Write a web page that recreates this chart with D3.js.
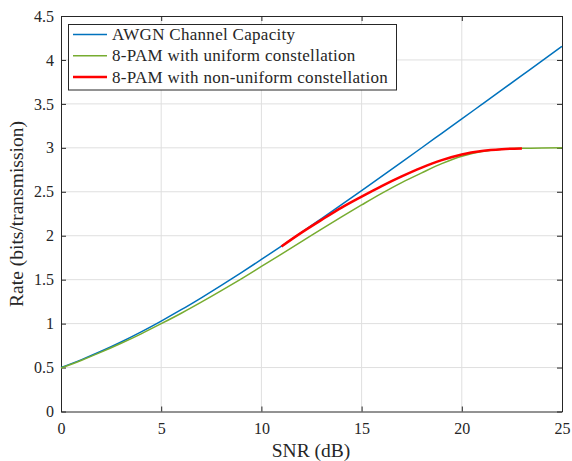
<!DOCTYPE html>
<html>
<head>
<meta charset="utf-8">
<script src="https://cdn.jsdelivr.net/npm/d3@7"></script>
<style>
  body { margin: 0; background: #fff; }
  svg text { font-family: "Liberation Serif", "Times New Roman", serif; fill: #262626; }
</style>
</head>
<body>
<svg id="chart" width="572" height="461"></svg>
<script>
// values
var snrDb = [0,1,2,3,4,5,6,7,8,9,10,11,12,13,14,15,16,17,18,19,20,21,22,23,24,25];
var awgn = [0.500,0.588,0.685,0.791,0.906,1.029,1.158,1.294,1.435,1.580,1.730,1.882,2.037,2.195,2.354,2.514,2.676,2.838,3.001,3.165,3.329,3.494,3.659,3.824,3.989,4.155];
var pamUniform = [0.495,0.581,0.675,0.776,0.884,0.999,1.118,1.244,1.375,1.510,1.650,1.790,1.932,2.075,2.215,2.350,2.482,2.605,2.715,2.820,2.905,2.958,2.985,2.995,2.999,3.000];
var snrNonUni = [11,12,13,14,15,16,17,18,19,20,21,22,23];
var pamNonUniform = [1.878,2.035,2.180,2.320,2.445,2.565,2.675,2.775,2.860,2.925,2.965,2.985,2.993];

var xTicks = [0,5,10,15,20,25];
var yTicks = [0,0.5,1,1.5,2,2.5,3,3.5,4,4.5];
var legendLabels = ["AWGN Channel Capacity", "8-PAM with uniform constellation", "8-PAM with non-uniform constellation"];
var colors = ["#0072BD", "#77AC30", "#FF0000"];

var svg = d3.select("#chart");
var plotL = 61, plotR = 562, plotT = 16, plotB = 411.5;

var x = d3.scaleLinear().domain([0, 25]).range([plotL, plotR]);
var y = d3.scaleLinear().domain([0, 4.5]).range([plotB, plotT]);

// grid
svg.append("g").selectAll("line").data(xTicks.slice(1, -1)).enter().append("line")
  .attr("x1", d => x(d)).attr("x2", d => x(d))
  .attr("y1", plotT).attr("y2", plotB)
  .attr("stroke", "#dfdfdf").attr("stroke-width", 1);
svg.append("g").selectAll("line").data(yTicks.slice(1, -1)).enter().append("line")
  .attr("y1", d => y(d)).attr("y2", d => y(d))
  .attr("x1", plotL).attr("x2", plotR)
  .attr("stroke", "#dfdfdf").attr("stroke-width", 1);

// axes (ticks inward, box on)
var axisColor = "#262626";
var gx = svg.append("g").attr("transform", "translate(0," + plotB + ")")
  .call(d3.axisBottom(x).tickValues(xTicks).tickSizeInner(-5).tickSizeOuter(0).tickPadding(11).tickFormat(d3.format("d")));
var gxTop = svg.append("g").attr("transform", "translate(0," + plotT + ")")
  .call(d3.axisTop(x).tickValues(xTicks).tickSizeInner(-5).tickSizeOuter(0).tickFormat(""));
var gy = svg.append("g").attr("transform", "translate(" + plotL + ",0)")
  .call(d3.axisLeft(y).tickValues(yTicks).tickSizeInner(-5).tickSizeOuter(0).tickPadding(7).tickFormat(d => String(d)));
var gyRight = svg.append("g").attr("transform", "translate(" + plotR + ",0)")
  .call(d3.axisRight(y).tickValues(yTicks).tickSizeInner(-5).tickSizeOuter(0).tickFormat(""));

[gx, gxTop, gy, gyRight].forEach(function(g) {
  g.select(".domain").attr("stroke", axisColor).attr("stroke-width", 1);
  g.selectAll(".tick line").attr("stroke", axisColor);
  g.selectAll("text").style("font-size", "16px").attr("fill", axisColor)
    .style("font-family", "'Liberation Serif', serif");
});

// series
var line = d3.line().x(d => x(d[0])).y(d => y(d[1])).curve(d3.curveMonotoneX);
svg.append("path").datum(snrDb.map((d, i) => [d, awgn[i]]))
  .attr("d", line).attr("fill", "none").attr("stroke", colors[0]).attr("stroke-width", 1.5);
svg.append("path").datum(snrDb.map((d, i) => [d, pamUniform[i]]))
  .attr("d", line).attr("fill", "none").attr("stroke", colors[1]).attr("stroke-width", 1.5);
svg.append("path").datum(snrNonUni.map((d, i) => [d, pamNonUniform[i]]))
  .attr("d", line).attr("fill", "none").attr("stroke", colors[2]).attr("stroke-width", 2.5);

// axis titles
svg.append("text").attr("x", 311).attr("y", 457).attr("text-anchor", "middle")
  .style("font-size", "19.5px").text("SNR (dB)");
svg.append("text").attr("transform", "translate(23,214) rotate(-90)").attr("text-anchor", "middle")
  .style("font-size", "19.5px").text("Rate (bits/transmission)");

// legend
var legend = svg.append("g");
legend.append("rect").attr("x", 68.5).attr("y", 24.5).attr("width", 328).attr("height", 65.5)
  .attr("fill", "#fff").attr("stroke", axisColor).attr("stroke-width", 1);
var rows = [34.5, 55.7, 77];
legendLabels.forEach(function(lab, i) {
  legend.append("line").attr("x1", 73).attr("x2", 107).attr("y1", rows[i]).attr("y2", rows[i])
    .attr("stroke", colors[i]).attr("stroke-width", i === 2 ? 2.5 : 1.5);
  legend.append("text").attr("x", 112).attr("y", rows[i] + 5.5)
    .style("font-size", "17px").style("letter-spacing", "0.3px").text(lab);
});
</script>
</body>
</html>
